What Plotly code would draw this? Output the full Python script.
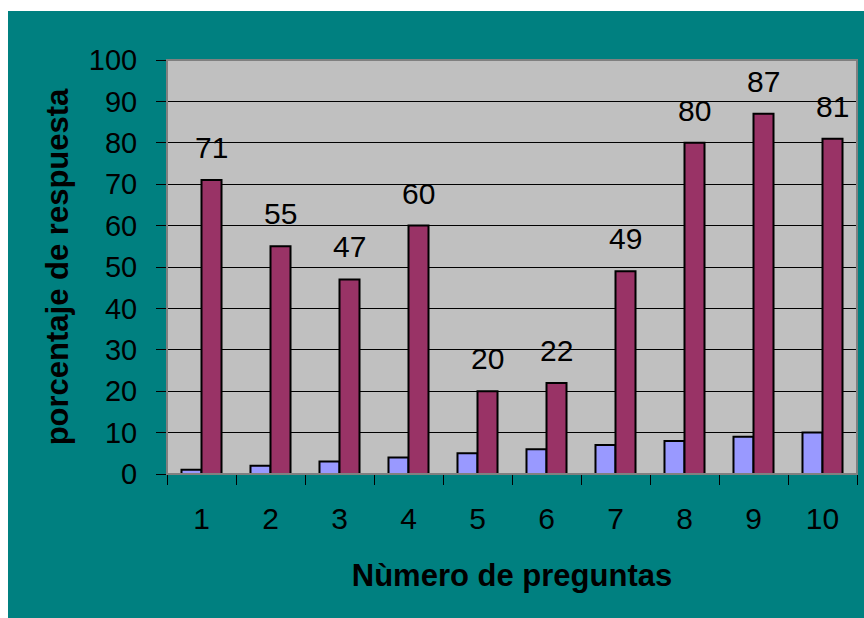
import plotly.graph_objects as go

categories = ["1", "2", "3", "4", "5", "6", "7", "8", "9", "10"]
serie_pregunta = [1, 2, 3, 4, 5, 6, 7, 8, 9, 10]
serie_porcentaje = [71, 55, 47, 60, 20, 22, 49, 80, 87, 81]
y_ticks = [0, 10, 20, 30, 40, 50, 60, 70, 80, 90, 100]

W, H = 864, 618
ML, MR, MT, MB = 167, 7, 60, 144
BARGAP = 0.42
FONT = "Liberation Sans, Arial, sans-serif"
TEAL = "#008080"

fig = go.Figure()
fig.add_trace(go.Bar(x=categories, y=serie_pregunta, marker=dict(color="#9999FF", line=dict(color="black", width=2)),
                     showlegend=False))
fig.add_trace(go.Bar(x=categories, y=serie_porcentaje, marker=dict(color="#993366", line=dict(color="black", width=2)),
                     showlegend=False))

off = (1 - BARGAP) / 4
for i, v in enumerate(serie_porcentaje):
    fig.add_annotation(x=i + off, y=v, xref="x", yref="y", text=str(v), showarrow=False,
                       yanchor="bottom", yshift=14, font=dict(family=FONT, size=30, color="black"))

pw = W - ML - MR
ph = H - MT - MB
# white strips outside the teal panel
fig.add_shape(type="rect", xref="paper", yref="paper", x0=-ML / pw, x1=1 + MR / pw,
              y0=1 + (MT - 11) / ph, y1=1 + MT / ph, fillcolor="white", line=dict(width=0), layer="below")
fig.add_shape(type="rect", xref="paper", yref="paper", x0=-ML / pw, x1=-(ML - 8) / pw,
              y0=-MB / ph, y1=1 + MT / ph, fillcolor="white", line=dict(width=0), layer="below")
# plot area border
fig.add_shape(type="rect", xref="paper", yref="paper", x0=0, x1=1, y0=0, y1=1,
              line=dict(color="#808080", width=2), fillcolor="rgba(0,0,0,0)", layer="above")

fig.update_layout(
    width=W, height=H,
    margin=dict(l=ML, r=MR, t=MT, b=MB),
    paper_bgcolor=TEAL, plot_bgcolor="#C0C0C0",
    barmode="group", bargap=BARGAP, bargroupgap=0,
    font=dict(family=FONT, color="black"),
)
fig.update_xaxes(type="category", tickson="boundaries", ticks="outside", ticklen=10, tickcolor="black",
                 tickwidth=1, showline=True, linecolor="black", linewidth=1, showgrid=False,
                 tickfont=dict(size=30, family=FONT, color="black"), ticklabelstandoff=18,
                 title=dict(text="Nùmero de preguntas", font=dict(size=31, family=FONT, color="black", weight="bold"),
                            standoff=30))
fig.update_yaxes(range=[0, 100], tickvals=y_ticks, ticks="outside", ticklen=10, tickcolor="black", tickwidth=1,
                 showgrid=True, gridcolor="black", gridwidth=1, zeroline=False, showline=False,
                 tickfont=dict(size=29, family=FONT, color="black"), ticklabelstandoff=13,
                 title=dict(text="porcentaje de respuesta", font=dict(size=31, family=FONT, color="black", weight="bold"),
                            standoff=10))

fig.write_html("out.html")
